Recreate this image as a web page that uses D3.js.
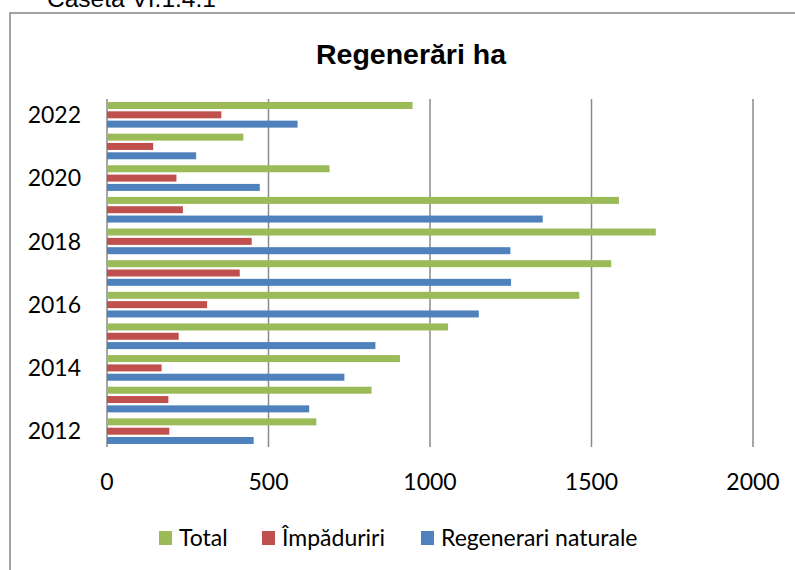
<!DOCTYPE html>
<html>
<head>
<meta charset="utf-8">
<script src="https://cdn.jsdelivr.net/npm/d3@7"></script>
<style>
  body { margin: 0; background: #fff; }
  svg { display: block; }
</style>
</head>
<body>
<div id="chart"></div>
<script>
  // values (ha)
  let years = [2012, 2013, 2014, 2015, 2016, 2017, 2018, 2019, 2020, 2021, 2022];
  let total = [648, 819, 907, 1056, 1462, 1561, 1699, 1585, 689, 422, 946];
  let impaduriri = [193, 190, 169, 222, 310, 411, 448, 235, 215, 143, 354];
  let regenerari = [454, 626, 735, 831, 1151, 1251, 1249, 1349, 473, 276, 590];
  let yearLabels = [2012, 2014, 2016, 2018, 2020, 2022];
  let xTicks = [0, 500, 1000, 1500, 2000];

  let series = [
    {key: "Total", label: "Total", color: "#9BBB59", values: total},
    {key: "Imp", label: "Împăduriri", color: "#C0504D", values: impaduriri},
    {key: "Reg", label: "Regenerari naturale", color: "#4F81BD", values: regenerari}
  ];

  let width = 795, height = 570;
  let plot = {left: 107, right: 753, top: 99, bottom: 447};

  let svg = d3.select("#chart").append("svg")
    .attr("width", width)
    .attr("height", height);

  svg.append("rect").attr("width", width).attr("height", height).attr("fill", "#fff");

  // caption above the frame (cut off in the original)
  svg.append("text")
    .attr("x", 47).attr("y", 7)
    .attr("font-family", "Liberation Sans, Arial, sans-serif")
    .attr("font-size", "24.5px")
    .attr("fill", "#000")
    .text("Caseta VI.1.4.1");

  // chart frame
  svg.append("rect")
    .attr("x", 10).attr("y", 13)
    .attr("width", 900).attr("height", 700)
    .attr("fill", "none")
    .attr("stroke", "#8c8c8c")
    .attr("stroke-width", 1.6);

  svg.append("text")
    .attr("x", 411).attr("y", 64)
    .attr("text-anchor", "middle")
    .attr("font-family", "Liberation Sans, Arial, sans-serif")
    .attr("font-weight", "bold")
    .attr("font-size", "28.5px")
    .text("Regenerări ha");

  let x = d3.scaleLinear().domain([0, 2000]).range([plot.left, plot.right]);

  let y0 = d3.scaleBand()
    .domain(years.slice().reverse())
    .range([plot.top, plot.bottom]);

  let y1 = d3.scaleBand()
    .domain(series.map(s => s.key))
    .range([3, y0.bandwidth() - 3])
    .paddingInner(0.25);

  // gridlines
  svg.append("g")
    .selectAll("line")
    .data(xTicks)
    .enter().append("line")
    .attr("x1", d => x(d)).attr("x2", d => x(d))
    .attr("y1", plot.top).attr("y2", plot.bottom)
    .attr("stroke", "#8a8a8a")
    .attr("stroke-width", 1.5);

  // bars
  let groups = svg.append("g")
    .selectAll("g")
    .data(years)
    .enter().append("g")
    .attr("transform", d => "translate(0," + y0(d) + ")");

  groups.selectAll("rect")
    .data((d, i) => series.map(s => ({key: s.key, color: s.color, value: s.values[i]})))
    .enter().append("rect")
    .attr("x", x(0))
    .attr("y", d => y1(d.key))
    .attr("width", d => x(d.value) - x(0))
    .attr("height", y1.bandwidth())
    .attr("fill", d => d.color);

  // x tick labels
  svg.append("g")
    .selectAll("text")
    .data(xTicks)
    .enter().append("text")
    .attr("x", d => x(d))
    .attr("y", 490)
    .attr("text-anchor", "middle")
    .attr("font-family", "Lato, sans-serif")
    .attr("font-size", "23px")
    .text(d => d);

  // y labels, every other year
  svg.append("g")
    .selectAll("text")
    .data(yearLabels)
    .enter().append("text")
    .attr("x", 81)
    .attr("y", d => y0(d) + y0.bandwidth() / 2)
    .attr("dy", "0.36em")
    .attr("text-anchor", "end")
    .attr("font-family", "Lato, sans-serif")
    .attr("font-size", "23px")
    .text(d => d);

  // legend
  let legendX = [159, 262, 421];
  let legend = svg.append("g")
    .selectAll("g")
    .data(series)
    .enter().append("g")
    .attr("transform", (d, i) => "translate(" + legendX[i] + ",531)");

  legend.append("rect")
    .attr("width", 13).attr("height", 14)
    .attr("fill", d => d.color);

  legend.append("text")
    .attr("x", 20).attr("y", 15)
    .attr("font-family", "Lato, sans-serif")
    .attr("font-size", "23px")
    .text(d => d.label);
</script>
</body>
</html>
